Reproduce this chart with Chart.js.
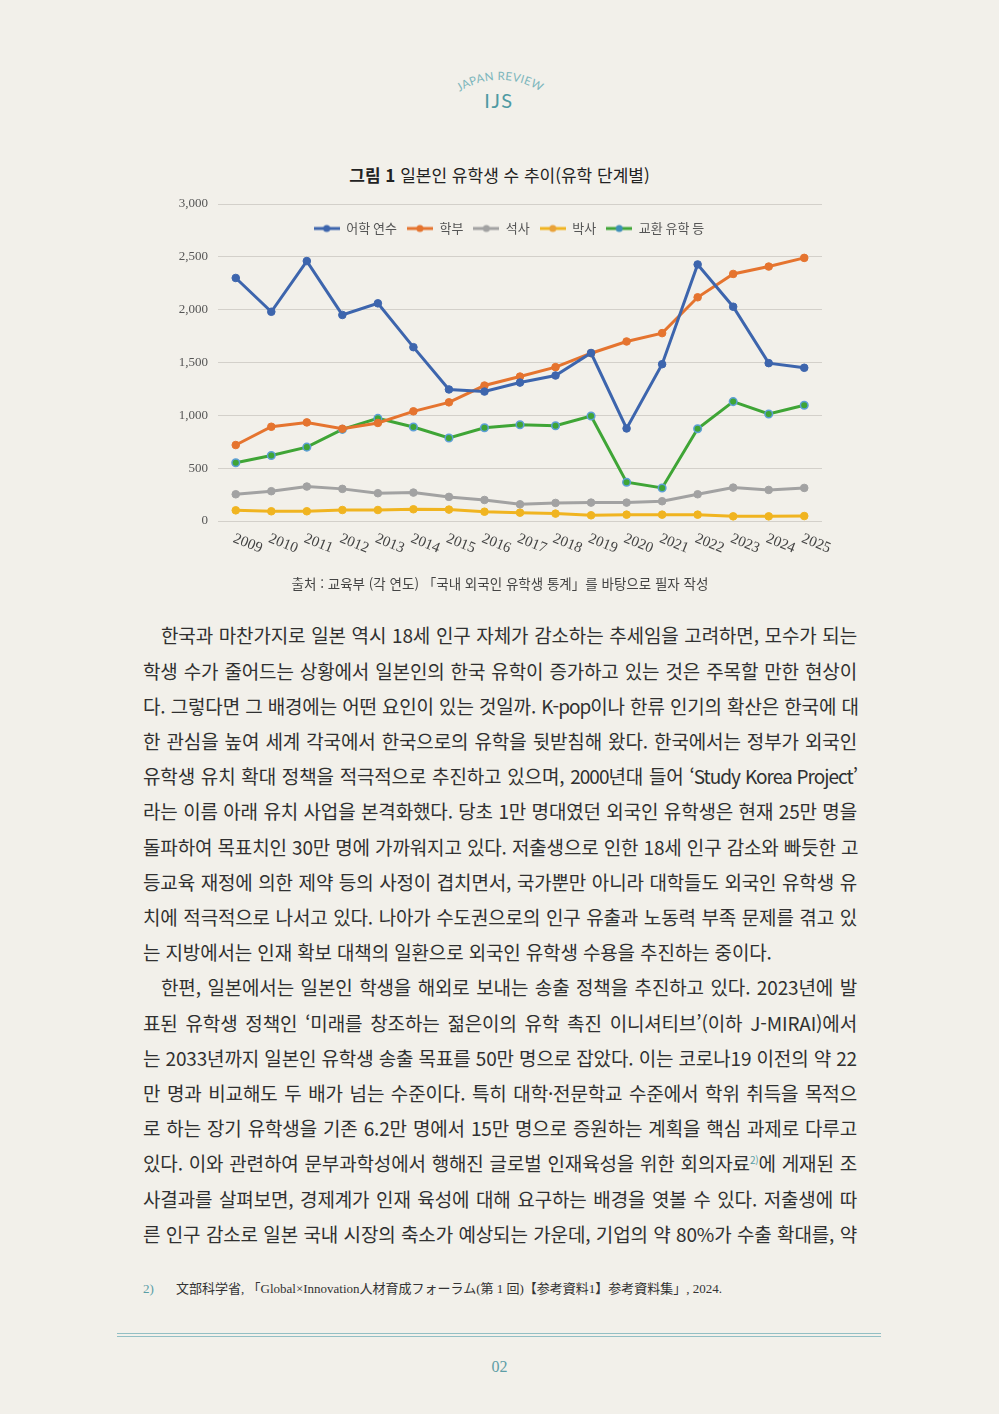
<!DOCTYPE html>
<html lang="ko">
<head>
<meta charset="utf-8">
<script src="https://cdn.jsdelivr.net/npm/chart.js@4.4.1/dist/chart.umd.min.js"></script>
<style>
  html, body { margin: 0; padding: 0; }
  body { width: 999px; height: 1414px; background: #f2f0ea; position: relative; overflow: hidden;
         font-family: "Noto Sans CJK KR", "Noto Sans", sans-serif; color: #2e2e2e; }
  .abs { position: absolute; }
  #title { left: 0; width: 999px; top: 162px; text-align: center; font-size: 17px; color: #222; }
  #title b { font-weight: 700; }
  #chartBox { left: 160px; top: 150px; width: 680px; height: 429px; }
  #source { left: 0; width: 1000px; top: 573px; text-align: center; font-size: 13.5px; color: #444; }
  .para { left: 143px; width: 714px; }
  .ln { height: 35.2px; line-height: 35.2px; font-size: 19px; letter-spacing: -0.15px; white-space: nowrap;
        text-align: justify; text-align-last: justify; text-justify: inter-word; font-weight: 400; color: #303030; }
  .ln.first { padding-left: 18px; }
  .ln.last { text-align: left; text-align-last: left; }
  .ln .lat { letter-spacing: -1px; }
  .ln sup { font-size: 10px; color: #5a9ea6; vertical-align: 7px; line-height: 0; }
  #foot { left: 143px; top: 1278px; font-size: 13px; color: #333;
          font-family: "Liberation Serif", "Noto Sans CJK JP", serif; white-space: nowrap; }
  #foot .num { color: #5a9ea6; display: inline-block; width: 33px; }
  #rule1, #rule2 { left: 117px; width: 764px; height: 1px; background: #93bfc4; }
  #rule1 { top: 1333px; }
  #rule2 { top: 1336px; }
  #pageNo { left: 0; width: 999px; top: 1358px; text-align: center; font-size: 16px; color: #5e9ea6;
            font-family: "Liberation Serif", serif; }
</style>
</head>
<body>

<svg class="abs" style="left:0;top:0" width="999" height="130">
  <defs><path id="arc" d="M 459 92 A 76 76 0 0 1 541 92" fill="none"/></defs>
  <text font-family="Lato, 'Open Sans', sans-serif" font-size="11.5" fill="#7db6bc" letter-spacing="0.3">
    <textPath href="#arc" startOffset="50%" text-anchor="middle">JAPAN REVIEW</textPath>
  </text>
  <text x="499" y="108" text-anchor="middle" font-family="Lato, 'Open Sans', sans-serif" font-size="20"
        fill="#4f9aa3" letter-spacing="1.5">IJS</text>
</svg>

<div id="title" class="abs"><b>그림 1</b> 일본인 유학생 수 추이(유학 단계별)</div>
<div id="chartBox" class="abs"><canvas id="line-chart"></canvas></div>
<div id="source" class="abs">출처 : 교육부 (각 연도) 「국내 외국인 유학생 통계」를 바탕으로 필자 작성</div>

<div class="abs para" style="top:617.4px">
  <div class="ln first">한국과 마찬가지로 일본 역시 18세 인구 자체가 감소하는 추세임을 고려하면, 모수가 되는</div>
  <div class="ln">학생 수가 줄어드는 상황에서 일본인의 한국 유학이 증가하고 있는 것은 주목할 만한 현상이</div>
  <div class="ln">다. 그렇다면 그 배경에는 어떤 요인이 있는 것일까. <span class="lat">K-pop</span>이나 한류 인기의 확산은 한국에 대</div>
  <div class="ln">한 관심을 높여 세계 각국에서 한국으로의 유학을 뒷받침해 왔다. 한국에서는 정부가 외국인</div>
  <div class="ln">유학생 유치 확대 정책을 적극적으로 추진하고 있으며, <span class="lat">2000</span>년대 들어 <span class="lat">‘Study Korea Project’</span></div>
  <div class="ln">라는 이름 아래 유치 사업을 본격화했다. 당초 1만 명대였던 외국인 유학생은 현재 25만 명을</div>
  <div class="ln">돌파하여 목표치인 30만 명에 가까워지고 있다. 저출생으로 인한 18세 인구 감소와 빠듯한 고</div>
  <div class="ln">등교육 재정에 의한 제약 등의 사정이 겹치면서, 국가뿐만 아니라 대학들도 외국인 유학생 유</div>
  <div class="ln">치에 적극적으로 나서고 있다. 나아가 수도권으로의 인구 유출과 노동력 부족 문제를 겪고 있</div>
  <div class="ln last">는 지방에서는 인재 확보 대책의 일환으로 외국인 유학생 수용을 추진하는 중이다.</div>
</div>

<div class="abs para" style="top:969.4px">
  <div class="ln first">한편, 일본에서는 일본인 학생을 해외로 보내는 송출 정책을 추진하고 있다. 2023년에 발</div>
  <div class="ln">표된 유학생 정책인 ‘미래를 창조하는 젊은이의 유학 촉진 이니셔티브’(이하 J-MIRAI)에서</div>
  <div class="ln">는 2033년까지 일본인 유학생 송출 목표를 50만 명으로 잡았다. 이는 코로나19 이전의 약 22</div>
  <div class="ln">만 명과 비교해도 두 배가 넘는 수준이다. 특히 대학·전문학교 수준에서 학위 취득을 목적으</div>
  <div class="ln">로 하는 장기 유학생을 기존 6.2만 명에서 15만 명으로 증원하는 계획을 핵심 과제로 다루고</div>
  <div class="ln">있다. 이와 관련하여 문부과학성에서 행해진 글로벌 인재육성을 위한 회의자료<sup>2)</sup>에 게재된 조</div>
  <div class="ln">사결과를 살펴보면, 경제계가 인재 육성에 대해 요구하는 배경을 엿볼 수 있다. 저출생에 따</div>
  <div class="ln">른 인구 감소로 일본 국내 시장의 축소가 예상되는 가운데, 기업의 약 80%가 수출 확대를, 약</div>
</div>

<div id="foot" class="abs"><span class="num">2)</span>文部科学省, 「Global×Innovation人材育成フォーラム(第 1 回)【参考資料1】参考資料集」, 2024.</div>
<div id="rule1" class="abs"></div>
<div id="rule2" class="abs"></div>
<div id="pageNo" class="abs">02</div>

<script>
// chart data
const years = ['2009', '2010', '2011', '2012', '2013', '2014', '2015', '2016', '2017',
  '2018', '2019', '2020', '2021', '2022', '2023', '2024', '2025'];
const languageStudy = [2300, 1980, 2460, 1950, 2060, 1645, 1245, 1225, 1310, 1377, 1590, 876, 1484, 2428, 2028, 1494, 1450];
const undergraduate = [719, 892, 933, 873, 928, 1038, 1123, 1282, 1367, 1456, 1588, 1699, 1778, 2117, 2338, 2408, 2490];
const master = [253, 282, 326, 304, 263, 269, 228, 199, 158, 171, 174, 174, 187, 253, 316, 294, 313];
const doctor = [101, 92, 92, 104, 104, 111, 108, 88, 79, 70, 54, 60, 60, 60, 44, 44, 47];
const exchange = [551, 620, 699, 867, 971, 889, 785, 883, 911, 902, 994, 367, 313, 873, 1130, 1013, 1095];
const seriesNames = ['어학 연수', '학부', '석사', '박사', '교환 유학 등'];
const yTicks = [0, 500, 1000, 1500, 2000, 2500, 3000];

// colours
const lineColors = ['#3d65ad', '#e5742f', '#a2a2a2', '#f0b420', '#3fa536'];
const legendDotColors = ['#3d65ad', '#e5742f', '#a2a2a2', '#e9a23a', '#3f8fb8'];

// small line + dot picture for legend entries
function legendMark(lineColor, dotColor) {
  const c = document.createElement('canvas');
  c.width = 26; c.height = 10;
  const g = c.getContext('2d');
  g.strokeStyle = lineColor; g.lineWidth = 3;
  g.beginPath(); g.moveTo(0, 5); g.lineTo(26, 5); g.stroke();
  g.fillStyle = dotColor;
  g.beginPath(); g.arc(13, 5, 3.5, 0, Math.PI * 2); g.fill();
  return c;
}

// the legend sits inside the plot, just under the top gridline
const legendInside = {
  id: 'legendInside',
  afterLayout(chart) {
    const lg = chart.legend;
    const h = lg.bottom - lg.top;
    lg.top = chart.chartArea.top + 8;
    lg.bottom = lg.top + h;
    lg.left += 18;
    lg.right += 18;
  }
};

// x labels slanting down to the right, placed on the category scale
const slantedYearLabels = {
  id: 'slantedYearLabels',
  afterDraw(chart) {
    const xs = chart.scales.x;
    const ctx = chart.ctx;
    ctx.save();
    ctx.font = '15px "Liberation Serif", serif';
    ctx.fillStyle = '#444';
    ctx.textAlign = 'left';
    ctx.textBaseline = 'middle';
    years.forEach((y, i) => {
      const px = xs.getPixelForValue(i);
      ctx.save();
      ctx.translate(px - 2, chart.chartArea.bottom + 17);
      ctx.rotate(22 * Math.PI / 180);
      ctx.fillText(y, 0, 0);
      ctx.restore();
    });
    ctx.restore();
  }
};

function makeSet(i, values) {
  return {
    label: seriesNames[i],
    data: values,
    borderColor: lineColors[i],
    backgroundColor: lineColors[i],
    borderWidth: 3,
    pointRadius: 3.8,
    pointBackgroundColor: lineColors[i],
    pointBorderColor: i === 4 ? '#5d9fd6' : lineColors[i],
    pointBorderWidth: i === 4 ? 1.5 : 1,
    tension: 0,
  };
}

const chartCanvas = document.getElementById('line-chart').getContext('2d');

const config = {
  type: 'line',
  data: {
    labels: years,
    datasets: [
      makeSet(0, languageStudy),
      makeSet(1, undergraduate),
      makeSet(2, master),
      makeSet(3, doctor),
      makeSet(4, exchange),
    ],
  },
  options: {
    responsive: true,
    maintainAspectRatio: false,
    animation: false,
    layout: { padding: { top: 21, right: 18, bottom: 50, left: 0 } },
    plugins: {
      tooltip: { enabled: false },
      legend: {
        position: 'top',
        align: 'center',
        labels: {
          usePointStyle: true,
          pointStyleWidth: 26,
          padding: 10,
          color: '#555',
          font: { family: '"Noto Sans CJK KR", sans-serif', size: 13 },
          generateLabels(chart) {
            return Chart.defaults.plugins.legend.labels.generateLabels(chart).map((item, i) => {
              item.pointStyle = legendMark(lineColors[i], legendDotColors[i]);
              return item;
            });
          },
        },
      },
    },
    scales: {
      x: {
        offset: true,
        grid: { display: false },
        border: { display: false },
        ticks: { display: false },
      },
      y: {
        min: 0,
        max: 3000,
        afterBuildTicks(scale) { scale.ticks = yTicks.map(v => ({ value: v })); },
        afterFit(scale) { scale.width = 58; },
        grid: { color: '#d3d0ca', lineWidth: 1, drawTicks: false },
        border: { display: false },
        ticks: {
          padding: 10,
          color: '#555',
          font: { family: '"Liberation Serif", serif', size: 13 },
          callback: v => v.toLocaleString('en-US'),
        },
      },
    },
  },
  plugins: [legendInside, slantedYearLabels],
};

const lineChart = new Chart(chartCanvas, config);
</script>
</body>
</html>
